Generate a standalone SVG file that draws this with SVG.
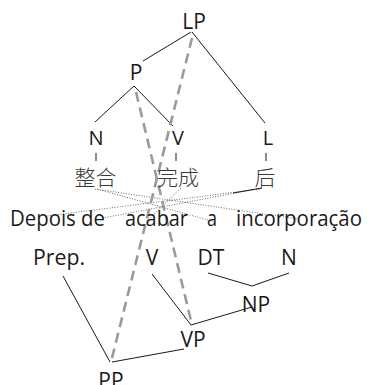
<svg xmlns="http://www.w3.org/2000/svg" width="367" height="385" viewBox="0 0 367 385">
  <style>
    .lbl { font-family: "Open Sans", "Noto Sans", sans-serif; fill: #1a1a1a; text-anchor: middle; }
    .big { font-size: 21px; }
    .mid { font-size: 20px; }
    .word { font-family: "Open Sans", "Noto Sans", sans-serif; font-size: 21px; fill: #1a1a1a; }
    .zh { font-family: "Noto Sans CJK SC", "Noto Sans", sans-serif; font-size: 21px; font-weight: 300; fill: #3a3a3a; text-anchor: middle; }
    .edge { stroke: #1a1a1a; stroke-width: 1; fill: none; }
    .trace { stroke: #9a9a9a; stroke-width: 2.6; stroke-dasharray: 10 6; fill: none; }
    .align { stroke: #444; stroke-width: 0.8; stroke-dasharray: 1 1.6; fill: none; }
  </style>
  <rect width="367" height="385" fill="#ffffff"/>

  <!-- tree edges -->
  <g id="connectors">
    <line class="edge" x1="191" y1="32" x2="143" y2="61"/>
    <line class="edge" x1="192" y1="32" x2="265" y2="123"/>
    <line class="edge" x1="134" y1="86" x2="95" y2="122"/>
    <line class="edge" x1="134" y1="86" x2="173" y2="126"/>
    <line class="edge" x1="96" y1="153" x2="96" y2="161"/>
    <line class="edge" x1="176" y1="153" x2="176" y2="161"/>
    <line class="edge" x1="266" y1="153" x2="266" y2="161"/>
    <line class="edge" x1="63" y1="276" x2="110" y2="362"/>
    <line class="edge" x1="152" y1="274" x2="191" y2="325"/>
    <line class="edge" x1="191" y1="325" x2="252" y2="307"/>
    <line class="edge" x1="208" y1="273" x2="252" y2="286"/>
    <line class="edge" x1="289" y1="273" x2="252" y2="286"/>
    <line class="edge" x1="184" y1="349" x2="112" y2="362"/>
    <!-- word alignments -->
    <line class="align" x1="95" y1="189" x2="298" y2="219"/>
    <line class="align" x1="97" y1="189" x2="215" y2="222"/>
    <line class="align" x1="260" y1="189" x2="47" y2="216"/>
    <line class="align" x1="262" y1="188" x2="103" y2="218"/>
    <line class="edge" x1="262" y1="188" x2="233" y2="193" stroke-width="0.8"/>
    <line class="align" x1="181" y1="188" x2="147" y2="221"/>
    <!-- correspondence traces -->
    <line class="trace" x1="192" y1="38" x2="111" y2="362"/>
    <line class="trace" x1="136" y1="92" x2="192" y2="325"/>
  </g>

  <g id="LP"><text class="lbl big" x="194" y="29">LP</text></g>
  <g id="P"><text class="lbl big" x="136" y="80">P</text></g>
  <g id="N-zh"><text class="lbl mid" x="96" y="145">N</text></g>
  <g id="V-zh"><text class="lbl mid" x="178" y="145">V</text></g>
  <g id="L"><text class="lbl mid" x="268" y="145">L</text></g>

  <g id="zh-words">
    <text class="zh" x="95.5" y="185">整合</text>
    <text class="zh" x="178" y="185">完成</text>
    <text class="zh" x="265" y="185">后</text>
  </g>

  <g id="pt-words">
    <text class="word" x="10" y="226" textLength="95" lengthAdjust="spacingAndGlyphs">Depois de</text>
    <text class="word" x="125" y="226" textLength="63" lengthAdjust="spacingAndGlyphs">acabar</text>
    <text class="word" x="207" y="226" textLength="10" lengthAdjust="spacingAndGlyphs">a</text>
    <text class="word" x="236" y="226" textLength="126" lengthAdjust="spacingAndGlyphs">incorporação</text>
  </g>

  <g id="Prep"><text class="word" x="33" y="265" textLength="52" lengthAdjust="spacingAndGlyphs">Prep.</text></g>
  <g id="V-pt"><text class="lbl big" x="152" y="265">V</text></g>
  <g id="DT"><text class="lbl big" x="211" y="265">DT</text></g>
  <g id="N-pt"><text class="lbl big" x="289" y="265">N</text></g>
  <g id="NP"><text class="lbl big" x="256" y="312">NP</text></g>
  <g id="VP"><text class="lbl big" x="193" y="347">VP</text></g>
  <g id="PP"><text class="lbl big" x="111" y="388">PP</text></g>
</svg>
